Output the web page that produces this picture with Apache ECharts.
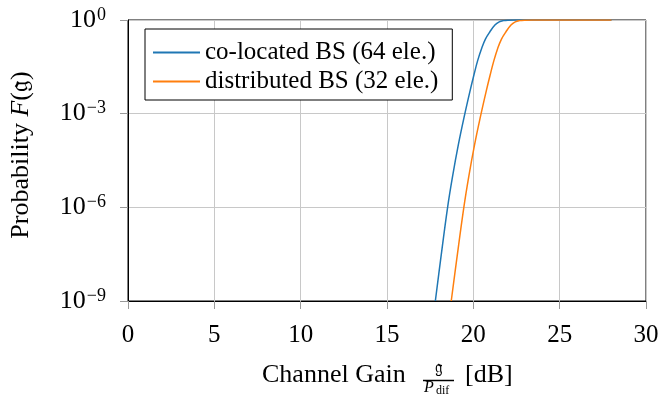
<!DOCTYPE html>
<html><head><meta charset="utf-8">
<script src="https://cdn.jsdelivr.net/npm/echarts@6/dist/echarts.min.js"></script>
<style>html,body{margin:0;padding:0;background:#fff}#c{width:659px;height:394px}</style>
</head><body><div id="c"></div>
<script>
// Data (x in dB, F = probability)
const seriesNames = ['co-located BS (64 ele.)', 'distributed BS (32 ele.)'];
const colocX = [17.80, 18.10, 18.51, 18.80, 19.13, 19.51, 19.80, 20.03, 20.25, 20.48, 20.70, 20.96, 21.25, 21.50, 21.75, 22.00, 22.50, 28.00];
const colocF = [1e-9, 2.0e-8, 1e-6, 1e-5, 1e-4, 1e-3, 5.1e-3, 1.7e-2, 5.0e-2, 0.123, 0.245, 0.42, 0.69, 0.87, 0.955, 0.99, 1, 1];
const distX = [18.72, 19.03, 19.45, 19.74, 20.07, 20.45, 20.74, 20.97, 21.19, 21.41, 21.63, 21.89, 22.18, 22.43, 22.68, 22.95, 23.45, 28.00];
const distF = [1e-9, 2.0e-8, 1e-6, 1e-5, 1e-4, 1e-3, 5.1e-3, 1.7e-2, 5.0e-2, 0.123, 0.245, 0.42, 0.69, 0.87, 0.955, 0.99, 1, 1];
const xTicks = [0, 5, 10, 15, 20, 25, 30];
const yTickExps = [0, -3, -6, -9];

const FONT = '"Liberation Serif", "DejaVu Serif", serif';
const pair = (xs, ys) => xs.map((x, i) => [x, ys[i]]);
const chart = echarts.init(document.getElementById('c'), null, {renderer: 'canvas'});
chart.setOption({
  animation: false,
  backgroundColor: '#fff',
  grid: {show: true, borderColor: '#000', borderWidth: 1, backgroundColor: 'transparent',
         left: 128, right: 13, top: 20, bottom: 93, containLabel: false, outerBoundsMode: 'none'},
  legend: {
    orient: 'vertical', left: 145, top: 29,
    backgroundColor: '#fff', borderColor: '#000', borderWidth: 1,
    padding: [11, 14, 6, 8], itemGap: 4,
    icon: 'rect', itemWidth: 47, itemHeight: 2,
    textStyle: {fontFamily: FONT, fontSize: 25, color: '#000'},
    data: seriesNames
  },
  xAxis: {
    type: 'value', min: xTicks[0], max: xTicks[xTicks.length - 1], interval: 5,
    axisLine: {show: true, lineStyle: {color: '#000', width: 1}},
    axisTick: {show: true, length: 8, lineStyle: {color: '#999'}},
    splitLine: {show: true, lineStyle: {color: '#c8c8c8', width: 1}},
    axisLabel: {fontFamily: FONT, fontSize: 25, color: '#000', margin: 22}
  },
  yAxis: {
    type: 'log', logBase: 10, min: Math.pow(10, yTickExps[3]), max: Math.pow(10, yTickExps[0]), interval: 3,
    axisLine: {show: true, lineStyle: {color: '#000', width: 1}},
    axisTick: {show: true, length: 8, lineStyle: {color: '#999'}},
    splitLine: {show: true, lineStyle: {color: '#c8c8c8', width: 1}},
    minorTick: {show: false},
    axisLabel: {
      margin: 22,
      formatter: v => {
        const e = Math.round(Math.log10(v));
        return '{b|10}{s|' + (e < 0 ? '\u2212' + (-e) : e) + '}';
      },
      rich: {
        b: {fontFamily: FONT, fontSize: 26, color: '#000'},
        s: {fontFamily: FONT, fontSize: 18, color: '#000', verticalAlign: 'top', padding: [0, 0, 10, 1]}
      }
    }
  },
  series: [
    {name: seriesNames[0], type: 'line', data: pair(colocX, colocF), showSymbol: false, smooth: 0.4,
     lineStyle: {color: '#1f77b4', width: 1.5}, itemStyle: {color: '#1f77b4'}},
    {name: seriesNames[1], type: 'line', data: pair(distX, distF), showSymbol: false, smooth: 0.4,
     lineStyle: {color: '#ff7f0e', width: 1.5}, itemStyle: {color: '#ff7f0e'}}
  ],
  graphic: [
    {type: 'text', x: 21, y: 155, rotation: Math.PI / 2,
     style: {text: 'Probability {i|F}(\uD835\uDD24)', fontFamily: FONT, fontSize: 26, fill: '#000',
       align: 'center', verticalAlign: 'middle',
       rich: {i: {fontFamily: FONT, fontStyle: 'italic', fontSize: 26}}}},
    {type: 'text', x: 262, y: 375,
     style: {text: 'Channel Gain', fontFamily: FONT, fontSize: 26, fill: '#000', verticalAlign: 'middle'}},
    {type: 'text', x: 439, y: 369,
     style: {text: '\uD835\uDD24', fontFamily: FONT, fontSize: 17, fill: '#000', align: 'center', verticalAlign: 'middle'}},
    {type: 'line', shape: {x1: 423, y1: 380.5, x2: 454, y2: 380.5}, style: {stroke: '#000', lineWidth: 1.5}},
    {type: 'text', x: 424, y: 387.5,
     style: {text: 'P', fontFamily: FONT, fontStyle: 'italic', fontSize: 16, fill: '#000', verticalAlign: 'middle'}},
    {type: 'text', x: 436, y: 390.5,
     style: {text: 'dif', fontFamily: FONT, fontSize: 12, fill: '#000', verticalAlign: 'middle'}},
    {type: 'text', x: 465, y: 375,
     style: {text: '[dB]', fontFamily: FONT, fontSize: 26, fill: '#000', verticalAlign: 'middle'}}
  ]
});
</script></body></html>
